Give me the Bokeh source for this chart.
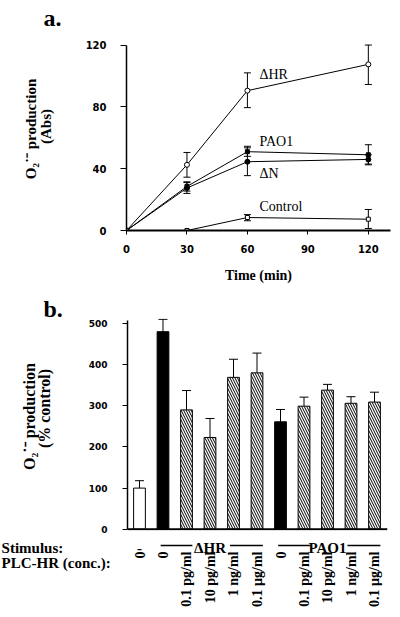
import math
from bokeh.plotting import figure
from bokeh.layouts import column, row
from bokeh.models import ColumnDataSource, Whisker, TeeHead, Span, FixedTicker
from bokeh.core.properties import value
from bokeh.embed import file_html
from bokeh.resources import INLINE

# ---------------- Panel a data ----------------
times = [0, 30, 60, 120]
dhr_mean = [0, 42.5, 90.5, 107.5]
dhr_lo = [0, 34.5, 79.5, 94.5]
dhr_hi = [0, 50.5, 102.0, 120.0]
pao1_mean = [0, 28.5, 51.0, 49.0]
pao1_lo = [0, 25.5, 48.0, 43.0]
pao1_hi = [0, 31.5, 54.5, 55.5]
dn_mean = [0, 27.5, 44.5, 46.0]
dn_lo = [0, 24.0, 35.5, 42.5]
dn_hi = [0, 31.0, 53.5, 49.0]
ctrl_mean = [0, 0, 8.4, 7.3]
ctrl_lo = [0, 0, 6.3, 1.3]
ctrl_hi = [0, 0, 10.3, 13.6]
series_labels = ["\u0394HR", "PAO1", "\u0394N", "Control"]
series_label_x = [66, 66, 66, 66]
series_label_y = [101, 57.5, 37, 15.5]
a_xticks = [0, 30, 60, 90, 120]
a_yticks = [0, 40, 80, 120]
a_ylabel = ["O\u2082\u02d9\u207b production", "(Abs)"]

# ---------------- Panel b data ----------------
stimulus = ["-", "\u0394HR", "\u0394HR", "\u0394HR", "\u0394HR", "\u0394HR",
            "PAO1", "PAO1", "PAO1", "PAO1", "PAO1"]
conc = ["0", "0", "0.1 pg/ml", "10 pg/ml", "1 ng/ml", "0.1 \u00b5g/ml",
        "0", "0.1 pg/ml", "10 pg/ml", "1 ng/ml", "0.1 \u00b5g/ml"]
bar_values = [100, 480, 290, 223, 369, 380, 261, 299, 338, 306, 309]
bar_err_top = [118, 510, 337, 269, 413, 428, 291, 321, 352, 322, 333]
bar_kind = ["open", "solid", "hatch", "hatch", "hatch", "hatch",
            "solid", "hatch", "hatch", "hatch", "hatch"]
b_yticks = [0, 100, 200, 300, 400, 500]
b_ylabel = ["O\u2082\u02d9\u207b production", "(% control)"]
row_headers = ["Stimulus:", "PLC-HR (conc.):"]

SERIF = value("Liberation Serif")
TICKFONT = "DejaVu Sans"


def bare(fig):
    fig.grid.visible = False
    fig.outline_line_color = None
    fig.background_fill_color = "white"
    fig.border_fill_color = "white"
    fig.frame_align = False
    return fig


def style_axis(ax, size):
    ax.axis_line_color = "black"
    ax.major_tick_line_color = "black"
    ax.minor_tick_line_color = None
    ax.major_tick_in = 0
    ax.major_label_text_font = TICKFONT
    ax.major_label_text_font_style = "bold"
    ax.major_label_text_font_size = size
    ax.major_label_text_color = "black"


# =============== Panel a: label strip ===============
sa = bare(figure(width=70, height=292, x_range=(0, 70), y_range=(-292, 0),
                 output_backend="svg", toolbar_location=None,
                 x_axis_location=None, y_axis_location=None,
                 min_border_left=0, min_border_right=0, min_border_top=0, min_border_bottom=0))
sa.text(x=[43], y=[-17], text=["a."], text_font=SERIF, text_font_style="bold",
        text_font_size="24px", text_color="black", text_align="left",
        text_baseline="alphabetic")
sa.text(x=[30, 45], y=[-128.5, -126], text=a_ylabel, angle=math.pi / 2,
        text_font=SERIF, text_font_style="bold", text_font_size="15px",
        text_color="black", text_align="center", text_baseline="middle")

# =============== Panel a: chart ===============
pa = bare(figure(width=330, height=292, x_range=(0, 131), y_range=(0, 121),
                 output_backend="svg", toolbar_location=None,
                 min_border_left=56, min_border_right=10, min_border_top=43,
                 min_border_bottom=62))
pa.xaxis.ticker = FixedTicker(ticks=a_xticks)
pa.yaxis.ticker = FixedTicker(ticks=a_yticks)
pa.yaxis.bounds = (0, 120)
style_axis(pa.xaxis, "10px")
style_axis(pa.yaxis, "10px")
pa.xaxis.axis_line_width = 2
pa.yaxis.axis_line_width = 1.5
pa.xaxis.major_tick_out = 4
pa.yaxis.major_tick_out = 6
pa.xaxis.major_label_standoff = 10
pa.yaxis.major_label_standoff = 14
pa.xaxis.axis_label = "Time (min)"
pa.xaxis.axis_label_text_font = "Liberation Serif"
pa.xaxis.axis_label_text_font_style = "bold"
pa.xaxis.axis_label_text_font_size = "14px"
pa.xaxis.axis_label_text_color = "black"
pa.xaxis.axis_label_standoff = 12


def add_series(p, x, mean, lo, hi, marker, fill, size):
    src = ColumnDataSource(dict(x=x, y=mean, lo=lo, hi=hi))
    p.line("x", "y", source=src, line_color="black", line_width=1)
    p.add_layout(Whisker(source=src, base="x", lower="lo", upper="hi",
                         line_color="black", line_width=1,
                         upper_head=TeeHead(size=7, line_color="black", line_width=1),
                         lower_head=TeeHead(size=7, line_color="black", line_width=1)))
    p.scatter("x", "y", source=src, marker=marker, size=size, fill_color=fill,
              line_color="black", line_width=1)


add_series(pa, times, ctrl_mean, ctrl_lo, ctrl_hi, "square", "white", 4)
add_series(pa, times, dn_mean, dn_lo, dn_hi, "circle", "black", 5)
add_series(pa, times, pao1_mean, pao1_lo, pao1_hi, "square", "black", 4)
add_series(pa, times, dhr_mean, dhr_lo, dhr_hi, "circle", "white", 5)

pa.text(x=series_label_x, y=series_label_y, text=series_labels,
        text_font=SERIF, text_font_size="14px", text_color="black",
        text_align="left", text_baseline="middle")

# =============== Panel b: label strip ===============
sb = bare(figure(width=70, height=244, x_range=(0, 70), y_range=(-244, 0),
                 output_backend="svg", toolbar_location=None,
                 x_axis_location=None, y_axis_location=None,
                 min_border_left=0, min_border_right=0, min_border_top=0, min_border_bottom=0))
sb.text(x=[43], y=[-16], text=["b."], text_font=SERIF, text_font_style="bold",
        text_font_size="24px", text_color="black", text_align="left",
        text_baseline="alphabetic")
sb.text(x=[29, 44], y=[-124, -116], text=b_ylabel, angle=math.pi / 2,
        text_font=SERIF, text_font_style="bold", text_font_size="16px",
        text_color="black", text_align="center", text_baseline="middle")

# =============== Panel b: bars ===============
idx = list(range(len(bar_values)))
pb = bare(figure(width=330, height=244, x_range=(-0.5106, 10.553), y_range=(-3, 512),
                 output_backend="svg", toolbar_location=None, x_axis_location=None,
                 min_border_left=57, min_border_right=13, min_border_top=26,
                 min_border_bottom=6))
pb.yaxis.ticker = FixedTicker(ticks=b_yticks)
pb.yaxis.bounds = (0, 506)
style_axis(pb.yaxis, "9px")
pb.yaxis.axis_line_width = 1.5
pb.yaxis.major_tick_out = 5
pb.yaxis.major_label_standoff = 15

fills = ["black" if k == "solid" else "white" for k in bar_kind]
hatches = ["\\" if k == "hatch" else " " for k in bar_kind]
bsrc = ColumnDataSource(dict(x=idx, top=bar_values, err=bar_err_top, fill=fills,
                             hatch=hatches, conc=conc))
pb.vbar(x="x", top="top", bottom=0, width=0.5, source=bsrc, fill_color="fill",
        line_color="black", line_width=1, hatch_pattern="hatch", hatch_color="black",
        hatch_scale=5, hatch_weight=1)
pb.add_layout(Whisker(source=bsrc, base="x", lower="top", upper="err",
                      line_color="black", line_width=1,
                      upper_head=TeeHead(size=9, line_color="black", line_width=1),
                      lower_head=None))
pb.add_layout(Span(location=0, dimension="width", line_color="black", line_width=2))

# =============== Panel b: category rows below the axis ===============
pc = bare(figure(width=400, height=81, x_range=(-5.915, 11.106), y_range=(-81, 0),
                 output_backend="svg", toolbar_location=None,
                 x_axis_location=None, y_axis_location=None,
                 min_border_left=0, min_border_right=0, min_border_top=0, min_border_bottom=0))
pc.text(x=[-5.87, -5.87], y=[-11, -26], text=row_headers, text_font=SERIF,
        text_font_style="bold", text_font_size="15px", text_color="black",
        text_align="left", text_baseline="middle")

csrc = ColumnDataSource(dict(x=idx, conc=conc))
pc.text(x="x", y=-15, text="conc", source=csrc, angle=math.pi / 2,
        text_font=SERIF, text_font_style="bold", text_font_size="14px",
        text_color="black", text_align="right", text_baseline="middle")

groups = []
for i, s in enumerate(stimulus):
    if groups and groups[-1][0] == s:
        groups[-1][1].append(i)
    else:
        groups.append([s, [i]])
gx, gt, seg_x0, seg_x1 = [], [], [], []
for name, members in groups:
    c = sum(members) / len(members)
    gx.append(c)
    gt.append(name)
    if len(members) > 1:
        seg_x0 += [members[0] - 0.1, c + 0.85]
        seg_x1 += [c - 0.75, members[-1] + 0.25]
pc.text(x=gx, y=-11, text=gt, text_font=SERIF, text_font_style="bold",
        text_font_size="15px", text_color="black", text_align="center",
        text_baseline="middle")
pc.segment(x0=seg_x0, y0=[-9] * len(seg_x0), x1=seg_x1, y1=[-9] * len(seg_x0),
           line_color="black", line_width=1.5)

layout = column(row(sa, pa), row(sb, pb), pc)
open("out.html", "w").write(file_html(layout, INLINE))
